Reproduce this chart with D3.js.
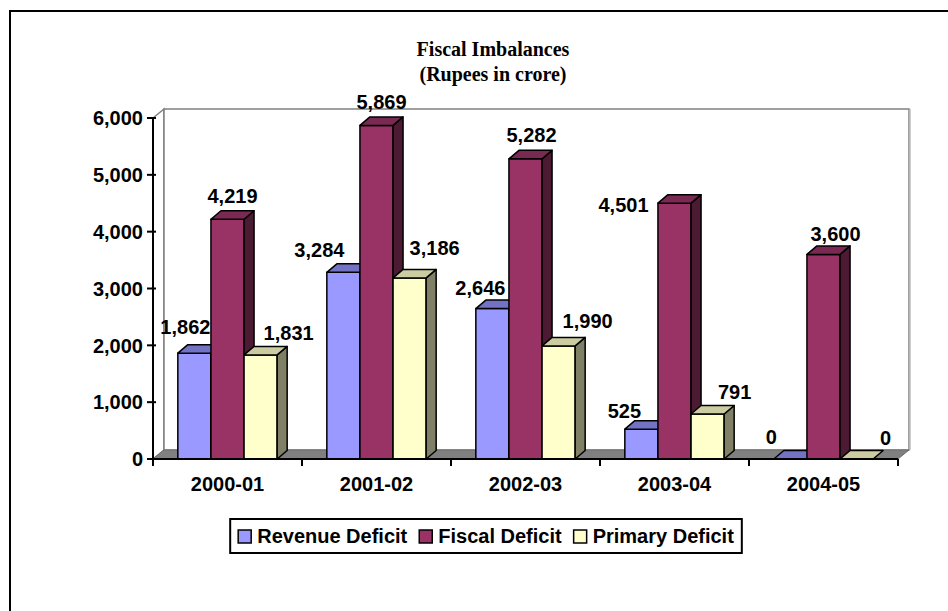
<!DOCTYPE html>
<html>
<head>
<meta charset="utf-8">
<script src="https://cdn.jsdelivr.net/npm/d3@7"></script>
<style>
  html, body { margin: 0; padding: 0; background: #fff; }
  svg { display: block; }
  text { font-family: "Liberation Sans", Arial, sans-serif; font-weight: bold; fill: #000; }
  .title { font-family: "Liberation Serif", "Times New Roman", serif; }
</style>
</head>
<body>
<svg id="chart" width="948" height="611"></svg>
<script>
// Fiscal imbalances of the state, Rupees in crore
const years = ["2000-01", "2001-02", "2002-03", "2003-04", "2004-05"];
const seriesNames = ["Revenue Deficit", "Fiscal Deficit", "Primary Deficit"];
const revenueDeficit = [1862, 3284, 2646, 525, 0];
const fiscalDeficit = [4219, 5869, 5282, 4501, 3600];
const primaryDeficit = [1831, 3186, 1990, 791, 0];
const yTicks = [0, 1000, 2000, 3000, 4000, 5000, 6000];

// Label nudges (px) so the value labels sit clear of neighbouring columns
const labelDx = [
  [-14, -29, -17, -22, -24],
  [0, 0, 1, -56, 7],
  [23, 20, 24, 22, 24]
];
const labelDy = [
  [-11, -7, -5, -3, -7],
  [-8, -8, -8, 17, -5],
  [-6, -14, -9, -7, -6]
];

const values = [revenueDeficit, fiscalDeficit, primaryDeficit];
const faceColors = [
  { front: "#9999FF", top: "#7373C6", side: "#5C5CA8" },
  { front: "#993366", top: "#7A2952", side: "#4D1A33" },
  { front: "#FFFFCC", top: "#CCCCA3", side: "#808066" }
];
const FS = 20;

const svg = d3.select("#chart");
const fmt = d3.format(",");

// Outer chart frame (runs past the right and bottom edges)
svg.append("rect")
  .attr("x", 10).attr("y", 11).attr("width", 1000).attr("height", 700)
  .attr("fill", "none").attr("stroke", "#000").attr("stroke-width", 2);

// Title
const title = svg.append("text").attr("class", "title")
  .attr("text-anchor", "middle").attr("font-size", 20);
title.append("tspan").attr("x", 493).attr("y", 56).text("Fiscal Imbalances");
title.append("tspan").attr("x", 493).attr("y", 81).text("(Rupees in crore)");

// Scales
const plotLeft = 153, plotRight = 898, plotTop = 118, plotBottom = 459;
const x0 = d3.scaleBand().domain(years).range([plotLeft, plotRight]).padding(0);
const x1 = d3.scaleBand().domain(seriesNames).range([0, x0.bandwidth()])
  .paddingInner(0).paddingOuter(0.75);
const y = d3.scaleLinear().domain([0, 6000]).range([plotBottom, plotTop]);

const wallDx = 11, wallDy = 9;   // depth of walls/floor
const barDx = 10, barDy = 8.5;   // depth of each column

// Walls and floor
const g3d = svg.append("g");
g3d.append("polygon")
  .attr("points", [[plotLeft, plotTop], [plotLeft + wallDx, plotTop - wallDy],
    [plotLeft + wallDx, plotBottom - wallDy], [plotLeft, plotBottom]].join(" "))
  .attr("fill", "#fff").attr("stroke", "#808080").attr("stroke-width", 1.5);
g3d.append("rect")
  .attr("x", plotLeft + wallDx).attr("y", plotTop - wallDy)
  .attr("width", plotRight - plotLeft).attr("height", plotBottom - plotTop)
  .attr("fill", "#fff").attr("stroke", "#808080").attr("stroke-width", 1.5);
g3d.append("line")
  .attr("x1", plotRight + wallDx + 1).attr("x2", plotRight + wallDx + 1)
  .attr("y1", plotTop - wallDy).attr("y2", plotBottom - wallDy)
  .attr("stroke", "#bdbdbd").attr("stroke-width", 1.5);
g3d.append("polygon")
  .attr("points", [[plotLeft, plotBottom], [plotRight, plotBottom],
    [plotRight + wallDx, plotBottom - wallDy], [plotLeft + wallDx, plotBottom - wallDy]].join(" "))
  .attr("fill", "#808080").attr("stroke", "#6e6e6e").attr("stroke-width", 1);

// Columns: front, top and side faces
const bars = svg.append("g");
years.forEach((yr, i) => {
  seriesNames.forEach((s, k) => {
    const v = values[k][i];
    const x = x0(yr) + x1(s), w = x1.bandwidth();
    const yt = y(v), yb = y(0);
    const c = faceColors[k];
    const g = bars.append("g").attr("stroke", "#000").attr("stroke-width", 1.5)
      .attr("stroke-linejoin", "round");
    if (v > 0) {
      g.append("rect").attr("x", x).attr("y", yt).attr("width", w).attr("height", yb - yt)
        .attr("fill", c.front);
      g.append("polygon")
        .attr("points", [[x + w, yt], [x + w + barDx, yt - barDy], [x + w + barDx, yb - barDy], [x + w, yb]].join(" "))
        .attr("fill", c.side);
    }
    g.append("polygon")
      .attr("points", [[x, yt], [x + barDx, yt - barDy], [x + w + barDx, yt - barDy], [x + w, yt]].join(" "))
      .attr("fill", c.top);
  });
});

// Value labels
const labels = svg.append("g").attr("font-size", FS).attr("text-anchor", "middle");
years.forEach((yr, i) => {
  seriesNames.forEach((s, k) => {
    const v = values[k][i];
    const cx = x0(yr) + x1(s) + x1.bandwidth() / 2 + barDx / 2;
    labels.append("text")
      .attr("x", cx + labelDx[k][i])
      .attr("y", y(v) - barDy + labelDy[k][i])
      .text(fmt(v));
  });
});

// Value axis
const yAxis = svg.append("g").attr("transform", `translate(${plotLeft},0)`);
yAxis.append("line").attr("x1", 0).attr("x2", 0).attr("y1", plotTop).attr("y2", plotBottom)
  .attr("stroke", "#000").attr("stroke-width", 2);
yTicks.forEach(t => {
  yAxis.append("line").attr("x1", -6).attr("x2", 3).attr("y1", y(t)).attr("y2", y(t))
    .attr("stroke", "#000").attr("stroke-width", 2);
  yAxis.append("text").attr("x", -10).attr("y", y(t)).attr("dy", "0.36em")
    .attr("text-anchor", "end").attr("font-size", FS).text(fmt(t));
});

// Category axis
const xAxis = svg.append("g");
xAxis.append("line").attr("x1", plotLeft).attr("x2", plotRight)
  .attr("y1", plotBottom).attr("y2", plotBottom).attr("stroke", "#000").attr("stroke-width", 2);
years.concat([null]).forEach(yr => {
  const tx = yr ? x0(yr) : plotRight;
  xAxis.append("line").attr("x1", tx).attr("x2", tx).attr("y1", plotBottom).attr("y2", plotBottom + 7)
    .attr("stroke", "#000").attr("stroke-width", 2);
});
years.forEach(yr => {
  xAxis.append("text").attr("x", x0(yr) + x0.bandwidth() / 2).attr("y", 491)
    .attr("text-anchor", "middle").attr("font-size", FS).text(yr);
});

// Legend
const legendBox = svg.append("rect");
const legend = svg.append("g");
const itemGap = 12, legendPad = 8;
let cursor = 0;
seriesNames.forEach((s, k) => {
  const it = legend.append("g");
  it.append("rect").attr("x", cursor).attr("y", -13).attr("width", 13).attr("height", 13)
    .attr("fill", faceColors[k].front).attr("stroke", "#000").attr("stroke-width", 1.5);
  const t = it.append("text").attr("x", cursor + 19).attr("y", 0).attr("font-size", FS).text(s);
  cursor += 19 + t.node().getComputedTextLength() + itemGap;
});
const legendW = cursor - itemGap + 2 * legendPad;
const legendCx = 486;
legend.attr("transform", `translate(${legendCx - legendW / 2 + legendPad},543)`);
legendBox
  .attr("x", legendCx - legendW / 2).attr("y", 519).attr("width", legendW).attr("height", 34)
  .attr("fill", "#fff").attr("stroke", "#000").attr("stroke-width", 2);
</script>
</body>
</html>
